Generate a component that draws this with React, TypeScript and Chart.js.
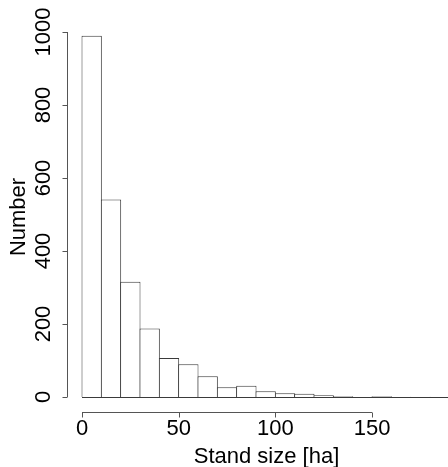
import React, { useEffect, useRef } from "react";
import { Chart, registerables } from "chart.js";

Chart.register(...registerables);

// Histogram bins (width 10 ha) and counts
const binStarts = [0, 10, 20, 30, 40, 50, 60, 70, 80, 90, 100, 110, 120, 130, 140, 150, 160, 170, 180];
const binWidth = 10;
const counts = [990, 541, 316, 188, 107, 90, 57, 27, 31, 16, 10, 9, 5, 2, 0, 2, 1, 0, 1];
const xTicks = [0, 50, 100, 150];
const yTicks = [0, 200, 400, 600, 800, 1000];
const xTitle = "Stand size [ha]";
const yTitle = "Number";

const FONT = "'Liberation Sans', Arial, Helvetica, sans-serif";
const AXIS_COLOR = "#555";
const BAR_BORDER = "#3a3a3a";

const rAxesPlugin = {
  id: "rAxes",
  afterDatasetsDraw(chart: any) {
    const { ctx, scales } = chart;
    const xs = scales.x;
    const ys = scales.y;
    const area = chart.chartArea;
    ctx.save();
    // baseline under all bins (R draws zero-height rectangles as lines)
    ctx.beginPath();
    ctx.rect(area.left, area.top, area.right - area.left, area.bottom - area.top);
    ctx.clip();
    ctx.strokeStyle = BAR_BORDER;
    ctx.lineWidth = 1;
    const y0 = Math.round(ys.getPixelForValue(0)) + 0.5;
    ctx.beginPath();
    ctx.moveTo(xs.getPixelForValue(binStarts[0]), y0);
    ctx.lineTo(xs.getPixelForValue(binStarts[binStarts.length - 1] + binWidth), y0);
    ctx.stroke();
    ctx.restore();

    ctx.save();
    ctx.strokeStyle = AXIS_COLOR;
    ctx.lineWidth = 1;
    // x axis
    const ay = Math.round(area.bottom) + 0.5;
    ctx.beginPath();
    ctx.moveTo(xs.getPixelForValue(xTicks[0]), ay);
    ctx.lineTo(xs.getPixelForValue(xTicks[xTicks.length - 1]), ay);
    for (const t of xTicks) {
      const px = Math.round(xs.getPixelForValue(t)) + 0.5;
      ctx.moveTo(px, ay);
      ctx.lineTo(px, ay + 5);
    }
    ctx.stroke();
    // y axis
    const ax = Math.round(area.left) + 0.5;
    ctx.beginPath();
    ctx.moveTo(ax, ys.getPixelForValue(yTicks[0]));
    ctx.lineTo(ax, ys.getPixelForValue(yTicks[yTicks.length - 1]));
    for (const t of yTicks) {
      const py = Math.round(ys.getPixelForValue(t)) + 0.5;
      ctx.moveTo(ax, py);
      ctx.lineTo(ax - 5, py);
    }
    ctx.stroke();
    ctx.restore();
  },
};

export default function App() {
  const canvasRef = useRef<HTMLCanvasElement | null>(null);

  useEffect(() => {
    const canvas = canvasRef.current;
    if (!canvas) return;
    const data = binStarts.map((s, i) => ({ x: s + binWidth / 2, y: counts[i] }));
    const chart = new Chart(canvas, {
      type: "bar",
      data: {
        datasets: [
          {
            data,
            backgroundColor: "#ffffff",
            borderColor: BAR_BORDER,
            borderWidth: { left: 1, top: 1, right: 1, bottom: 0 },
            borderSkipped: false,
            barPercentage: 1.0517,
            categoryPercentage: 1,
            inflateAmount: 0,
          } as any,
        ],
      },
      options: {
        responsive: false,
        animation: false,
        events: [],
        layout: { padding: { top: 22, left: 0, right: 0, bottom: 0 } },
        plugins: {
          legend: { display: false },
          tooltip: { enabled: false },
        },
        scales: {
          x: {
            type: "linear",
            offset: false,
            min: -7.76,
            max: 198.6,
            grid: { display: false, drawTicks: false, offset: false },
            border: { display: false },
            afterBuildTicks: (s: any) => {
              s.ticks = xTicks.map((v) => ({ value: v }));
            },
            afterFit: (s: any) => {
              s.height = 55;
            },
            ticks: {
              autoSkip: false,
              maxRotation: 0,
              minRotation: 0,
              padding: 4,
              color: "#000",
              font: { family: FONT, size: 22 },
              callback: (v: any) => String(v),
            },
            title: {
              display: true,
              text: xTitle,
              color: "#000",
              font: { family: FONT, size: 22, lineHeight: 1 },
              padding: { top: 0, bottom: -1 },
            },
          },
          y: {
            type: "linear",
            min: -41.1,
            max: 1027.4,
            grid: { display: false, drawTicks: false },
            border: { display: false },
            afterBuildTicks: (s: any) => {
              s.ticks = yTicks.map((v) => ({ value: v }));
            },
            afterFit: (s: any) => {
              s.width = 67;
            },
            ticks: {
              autoSkip: false,
              minRotation: 90,
              maxRotation: 90,
              crossAlign: "center",
              padding: -1,
              color: "#000",
              font: { family: FONT, size: 22 },
              callback: (v: any) => String(v),
            },
            title: {
              display: true,
              text: yTitle,
              color: "#000",
              font: { family: FONT, size: 22, lineHeight: 1 },
              padding: { top: 8, bottom: 0 },
            },
          },
        },
      },
      plugins: [rAxesPlugin],
    } as any);
    return () => chart.destroy();
  }, []);

  return (
    <div
      style={{
        position: "absolute",
        left: 0,
        top: 0,
        width: 448,
        height: 467,
        overflow: "hidden",
        background: "#fff",
      }}
    >
      <canvas ref={canvasRef} width={466} height={467} style={{ width: 466, height: 467, display: "block" }} />
    </div>
  );
}
